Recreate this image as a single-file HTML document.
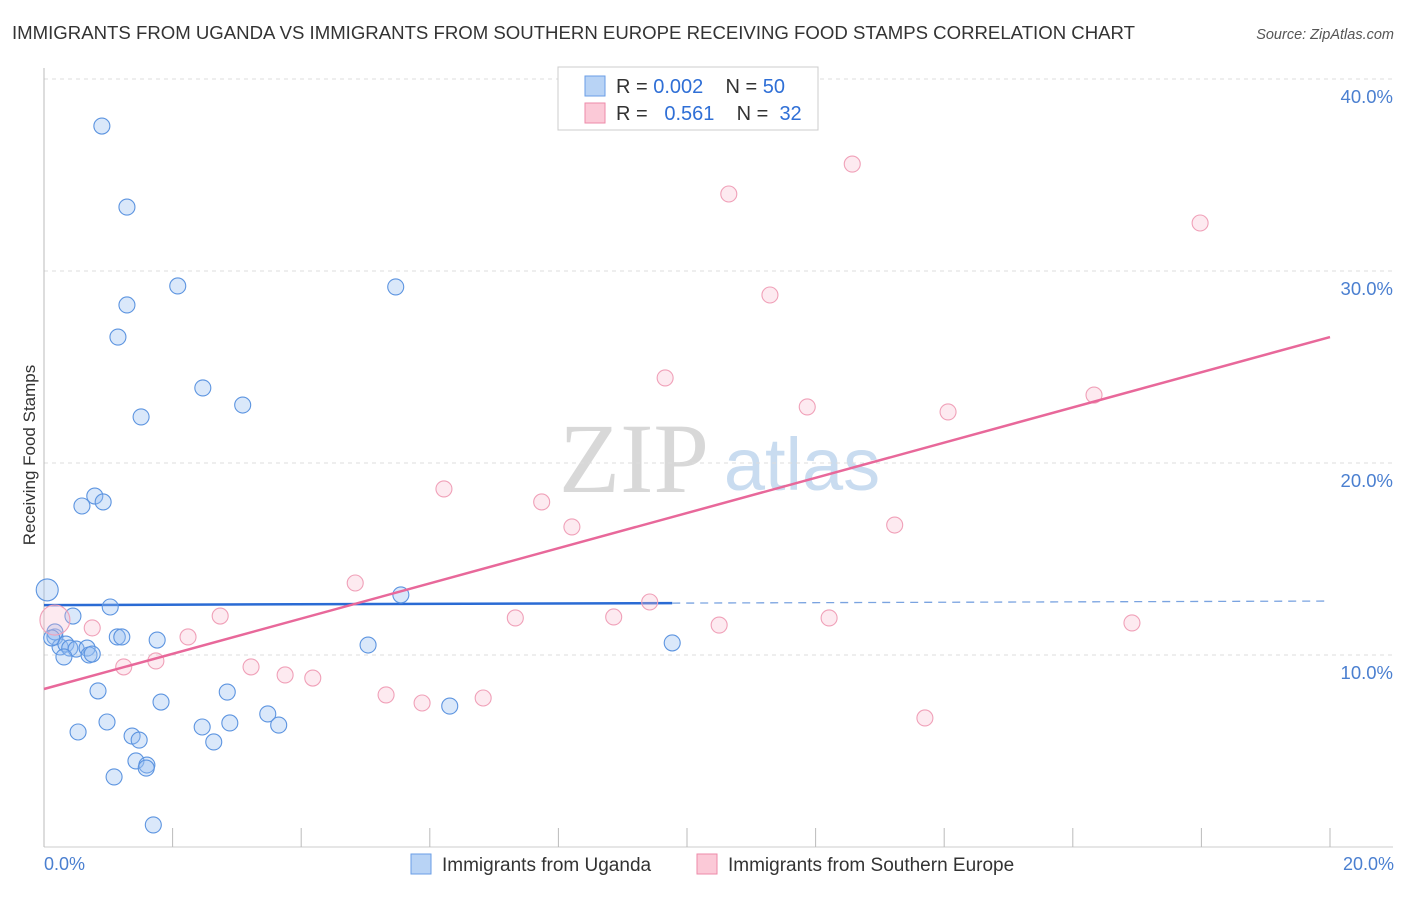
<!DOCTYPE html>
<html><head><meta charset="utf-8"><style>
body{margin:0;background:#fff;font-family:"Liberation Sans",sans-serif;}
svg text{font-family:"Liberation Sans",sans-serif;}
</style></head><body>
<svg width="1406" height="892" viewBox="0 0 1406 892">
<text x="12" y="39" font-size="18.3" fill="#333" textLength="1123" lengthAdjust="spacingAndGlyphs">IMMIGRANTS FROM UGANDA VS IMMIGRANTS FROM SOUTHERN EUROPE RECEIVING FOOD STAMPS CORRELATION CHART</text>
<text x="1394" y="39" font-size="14.5" fill="#555" font-style="italic" text-anchor="end">Source: ZipAtlas.com</text>
<g>
<text x="634" y="492" font-size="100" fill="#d8d8d8" style="font-family:'Liberation Serif',serif" text-anchor="middle">ZIP</text>
<text x="802" y="490" font-size="74" fill="#c9dcf0" text-anchor="middle">atlas</text>
</g>
<g id="grid"></g><g id="axes"></g><g id="marks"></g>
<text x="35" y="455" font-size="17" fill="#333" transform="rotate(-90 35 455)" text-anchor="middle">Receiving Food Stamps</text>
<text x="44" y="870" font-size="18" fill="#4a7fd0">0.0%</text>
<text x="1394" y="870" font-size="18" fill="#4a7fd0" text-anchor="end">20.0%</text>
<g>
<rect x="558" y="67" width="260" height="63" fill="#fff" stroke="#ccc"/>
<rect x="585" y="76" width="20" height="20" fill="#b8d3f5" stroke="#6a9ee6"/>
<rect x="585" y="103" width="20" height="20" fill="#fbc9d7" stroke="#ee8aa8"/>
<text x="616" y="93" font-size="20" fill="#333" xml:space="preserve" style="white-space:pre">R = <tspan fill="#2f6fd6">0.002</tspan>    N = <tspan fill="#2f6fd6">50</tspan></text>
<text x="616" y="120" font-size="20" fill="#333" xml:space="preserve" style="white-space:pre">R =  <tspan fill="#2f6fd6"> 0.561</tspan>    N =  <tspan fill="#2f6fd6">32</tspan></text>
</g>
<g><rect x="411" y="854" width="20" height="20" fill="#b8d3f5" stroke="#6a9ee6"/><text x="442" y="871" font-size="19" fill="#333">Immigrants from Uganda</text></g>
<g><rect x="697" y="854" width="20" height="20" fill="#fbc9d7" stroke="#ee8aa8"/><text x="728" y="871" font-size="19" fill="#333">Immigrants from Southern Europe</text></g>
</svg>
<script>
const yTicks=[10,20,30,40];
const yTickLabels=["10.0%","20.0%","30.0%","40.0%"];
const xTicks=[0,2,4,6,8,10,12,14,16,18,20];
const blueX=[0.90,1.29,2.08,1.29,1.15,2.47,3.09,1.51,0.79,0.59,0.92,5.47,0.05,1.03,5.55,0.45,1.14,1.21,1.76,0.17,0.25,0.34,0.40,0.50,0.67,0.70,0.75,0.31,5.04,9.77,0.84,1.82,2.85,0.53,0.98,2.46,2.89,3.48,3.65,2.64,1.37,1.48,1.43,1.60,1.59,1.09,1.70,6.31,0.17,0.12];
const blueY=[37.55,33.33,29.22,28.23,26.56,23.91,23.02,22.40,18.28,17.76,17.97,29.17,13.39,12.50,13.13,12.03,10.94,10.94,10.78,10.94,10.42,10.57,10.36,10.31,10.36,10.00,10.05,9.90,10.52,10.63,8.13,7.55,8.07,5.99,6.51,6.25,6.46,6.93,6.35,5.47,5.78,5.57,4.48,4.27,4.11,3.65,1.15,7.34,11.20,10.89];
const pinkX=[0.17,0.75,1.24,1.74,2.24,2.74,3.22,3.75,4.18,4.84,5.32,5.88,6.22,6.83,7.33,7.74,8.21,8.86,9.42,9.66,10.50,10.65,11.29,11.87,12.21,12.57,13.23,13.70,14.06,16.33,16.92,17.98];
const pinkY=[11.82,11.41,9.38,9.69,10.94,12.03,9.38,8.96,8.80,13.75,7.92,7.50,18.65,7.76,11.93,17.97,16.67,11.98,12.76,24.43,11.56,34.01,28.75,22.92,11.93,35.57,16.77,6.72,22.66,23.54,11.67,32.50];
const blueTrend=[12.6,12.81];
const pinkTrend=[8.23,26.56];
const NS="http://www.w3.org/2000/svg";
const X=v=>44+v*64.3, Y=v=>847-v*19.2;
function mk(p,t,a){const e=document.createElementNS(NS,t);for(const k in a)e.setAttribute(k,a[k]);p.appendChild(e);return e;}
const grid=document.getElementById('grid'),axes=document.getElementById('axes'),marks=document.getElementById('marks');
yTicks.forEach((t,i)=>{
 const l=mk(grid,'line',{x1:44,x2:1393,y1:Y(t),y2:Y(t),stroke:'#ddd','stroke-dasharray':'4 4'});
 
 
 const tx=mk(grid,'text',{x:1393,y:Y(t)+24,'font-size':18.5,fill:'#4a7fd0','text-anchor':'end'});
 tx.textContent=yTickLabels[i];
 
 
});
mk(axes,'line',{x1:44,x2:44,y1:68,y2:847,stroke:'#bbb'});
mk(axes,'line',{x1:44,x2:1393,y1:847,y2:847,stroke:'#ccc'});
xTicks.forEach(t=>{
 const l=mk(axes,'line',{x1:X(t),x2:X(t),y1:828,y2:847,stroke:'#bbb'});
 
 
});
const cut=9.77;
let t=mk(marks,'line',{x1:X(0),x2:X(cut),y1:Y(blueTrend[0]),y2:Y(blueTrend[0]+(blueTrend[1]-blueTrend[0])*cut/20),stroke:'#2a6bd4','stroke-width':2.5});


t=mk(marks,'line',{x1:X(cut),x2:X(20),y1:Y(blueTrend[0]+(blueTrend[1]-blueTrend[0])*cut/20),y2:Y(blueTrend[1]),stroke:'#7aa3e0','stroke-width':1.3,'stroke-dasharray':'8 6'});


blueX.forEach((x,i)=>{
 const r=i===12?11:8;
 const c=mk(marks,'circle',{cx:X(x),cy:Y(blueY[i]),r:r,fill:'rgba(150,190,240,0.35)',stroke:'#5c94e0','stroke-width':1.1});
 
 
});
pinkX.forEach((x,i)=>{
 const r=i===0?15:8;
 const c=mk(marks,'circle',{cx:X(x),cy:Y(pinkY[i]),r:r,fill:'rgba(248,185,205,0.3)',stroke:'#f0a0b8','stroke-width':1.1});
 
 
});
t=mk(marks,'line',{x1:X(0),x2:X(20),y1:Y(pinkTrend[0]),y2:Y(pinkTrend[1]),stroke:'#e8689a','stroke-width':2.5});


</script>
</body></html>
